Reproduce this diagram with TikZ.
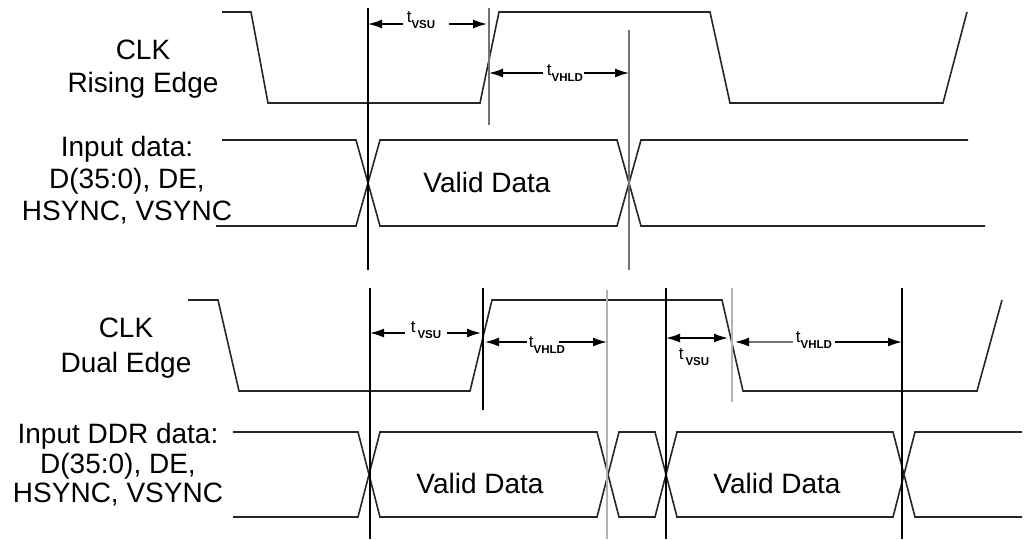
\documentclass[tikz,border=0pt]{standalone}
\usepackage{fontspec}
\setmainfont{Liberation Sans}
\usetikzlibrary{arrows.meta}
\begin{document}
\begin{tikzpicture}[x=1pt,y=-1pt,
  wave/.style={line width=1.6pt, line join=miter, black!85},
  marker/.style={line width=1.4pt, black},
  greymarker/.style={line width=1.4pt, black!55},
  lightmarker/.style={line width=2pt, black!30},
  arr/.style={line width=1.5pt, -{Latex[length=14pt,width=9pt,black]}},
  lbl/.style={font=\fontsize{28}{33}\selectfont, align=center, inner sep=0pt},
  vd/.style={font=\fontsize{28}{33}\selectfont, inner sep=0pt},
  tl/.style={inner xsep=4pt, inner ysep=0pt, fill=none},
]
\newcommand{\tsub}[1]{{\fontsize{17}{17}\selectfont t}\raisebox{-6pt}{\fontsize{11.5}{11.5}\selectfont\bfseries #1}}
\useasboundingbox (0,0) rectangle (1029,539);

% ---------- labels ----------
\node[lbl] (clkA) at (143,69) {CLK\\Rising Edge};
\node[lbl, font=\fontsize{28}{32}\selectfont] (dataA) at (127,180) {Input data:\\D(35:0), DE,\\HSYNC, VSYNC};
\node[lbl, font=\fontsize{28}{35}\selectfont] (clkB) at (126,348) {CLK\\Dual Edge};
\node[lbl, font=\fontsize{28}{29.5}\selectfont] (dataB) at (118,465) {Input DDR data:\\D(35:0), DE,\\HSYNC, VSYNC};

\node[vd] (vdA) at (487,182) {Valid Data};
\node[vd] (vdB1) at (480,483) {Valid Data};
\node[vd] (vdB2) at (777,483) {Valid Data};

% ---------- waveforms (top) ----------
\draw[wave] (222,12) -- (251,12) -- (268,103) -- (480,103) -- (499,12) -- (710,12) -- (730,103) -- (943,103) -- (967,12);
\draw[wave] (222,140) -- (356,140) -- (380,226) -- (617,226) -- (641,140) -- (968,140);
\draw[wave] (216,226) -- (356,226) -- (380,140) -- (617,140) -- (641,226) -- (985,226);

% ---------- waveforms (bottom) ----------
\draw[wave] (188,300) -- (218,300) -- (239,391) -- (470,391) -- (492,300) -- (722,300) -- (743,391) -- (977,391) -- (1002,300);
\draw[wave] (233,432) -- (358,432) -- (380,517) -- (597,517) -- (619,432) -- (655,432) -- (677,517) -- (893,517) -- (915,432) -- (1022,432);
\draw[wave] (233,517) -- (358,517) -- (380,432) -- (597,432) -- (619,517) -- (655,517) -- (677,432) -- (893,432) -- (915,517) -- (1022,517);

% ---------- timing markers ----------
\coordinate (m1t) at (368,8);   \coordinate (m1b) at (368,270);
\coordinate (m2t) at (489,8);   \coordinate (m2b) at (489,125);
\coordinate (m3t) at (629,30);  \coordinate (m3b) at (629,270);
\draw[marker] (m1t) -- (m1b);
\draw[greymarker] (m2t) -- (m2b);
\draw[greymarker] (m3t) -- (m3b);

\coordinate (n1t) at (370,288); \coordinate (n1b) at (370,539);
\coordinate (n2t) at (483,288); \coordinate (n2b) at (483,410);
\coordinate (n3t) at (607,290); \coordinate (n3b) at (607,539);
\coordinate (n4t) at (666,288); \coordinate (n4b) at (666,539);
\coordinate (n5t) at (732,288); \coordinate (n5b) at (732,402);
\coordinate (n6t) at (902,288); \coordinate (n6b) at (902,539);
\draw[marker] (n1t) -- (n1b);
\draw[marker] (n2t) -- (n2b);
\draw[lightmarker] (n3t) -- (n3b);
\draw[marker] (n4t) -- (n4b);
\draw[lightmarker] (n5t) -- (n5b);
\draw[marker] (n6t) -- (n6b);

% ---------- dimension arrows (top) ----------
\node[tl, inner xsep=4pt] (tsuA) at (421,20) {\tsub{VSU}};
\coordinate (suAl) at (m1t |- 0,24);
\coordinate (suAr) at (487,24);
\draw[arr] (tsuA.west |- suAl) -- (suAl);
\draw[arr] ([xshift=10pt]tsuA.east |- suAr) -- (suAr);

\node[tl, inner xsep=4pt] (thdA) at (565,73) {\tsub{VHLD}};
\coordinate (hdAl) at (489,73);
\coordinate (hdAr) at (m3t |- 0,73);
\draw[arr] (thdA.west |- hdAl) -- (hdAl);
\draw[arr] ([xshift=-3pt]thdA.east |- hdAr) -- (hdAr);

% ---------- dimension arrows (bottom) ----------
\node[tl, inner xsep=6pt] (tsuB1) at (426,330) {\tsub{\,VSU}};
\coordinate (suB1l) at (n1t |- 0,333);
\coordinate (suB1r) at (481,333);
\draw[arr] (tsuB1.west |- suB1l) -- (suB1l);
\draw[arr] (tsuB1.east |- suB1r) -- (suB1r);

\node[tl, inner xsep=2pt] (thdB1) at (547,345) {\tsub{VHLD}};
\coordinate (hdB1l) at (485,342);
\coordinate (hdB1r) at (n3t |- 0,342);
\draw[arr] (thdB1.west |- hdB1l) -- (hdB1l);
\draw[arr] ([xshift=-8pt]thdB1.east |- hdB1r) -- (hdB1r);

\coordinate (suB2l) at (n4t |- 0,338);
\coordinate (suB2r) at (728,338);
\draw[arr, {Latex[length=14pt,width=9pt]}-{Latex[length=14pt,width=9pt]}] (suB2l) -- (suB2r);
\node[tl] (tsuB2) at (694,357) {\tsub{\,VSU}};

\node[tl, inner xsep=3pt] (thdB2) at (814,340) {\tsub{VHLD}};
\coordinate (hdB2l) at (735,342);
\coordinate (hdB2r) at (n6t |- 0,342);
\draw[arr, black!55] (thdB2.west |- hdB2l) -- (hdB2l);
\draw[arr] (thdB2.east |- hdB2r) -- (hdB2r);
\end{tikzpicture}
\end{document}
